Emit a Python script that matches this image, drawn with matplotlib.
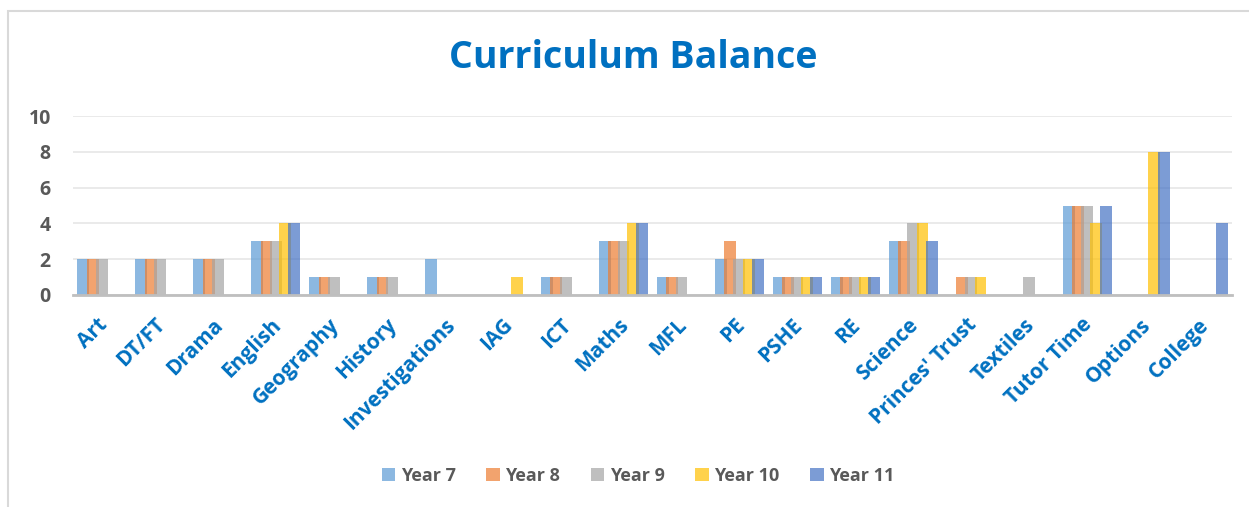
import matplotlib.pyplot as plt
import numpy as np
from matplotlib.patches import Rectangle

subjects = ['Art', 'DT/FT', 'Drama', 'English', 'Geography', 'History', 'Investigations',
            'IAG', 'ICT', 'Maths', 'MFL', 'PE', 'PSHE', 'RE', 'Science', "Princes' Trust",
            'Textiles', 'Tutor Time', 'Options', 'College']

year7 = [2, 2, 2, 3, 1, 1, 2, 0, 1, 3, 1, 2, 1, 1, 3, 0, 0, 5, 0, 0]
year8 = [2, 2, 2, 3, 1, 1, 0, 0, 1, 3, 1, 3, 1, 1, 3, 1, 0, 5, 0, 0]
year9 = [2, 2, 2, 3, 1, 1, 0, 0, 1, 3, 1, 2, 1, 1, 4, 1, 1, 5, 0, 0]
year10 = [0, 0, 0, 4, 0, 0, 0, 1, 0, 4, 0, 2, 1, 1, 4, 1, 0, 4, 8, 0]
year11 = [0, 0, 0, 4, 0, 0, 0, 0, 0, 4, 0, 2, 1, 1, 3, 0, 0, 5, 8, 4]

series = [year7, year8, year9, year10, year11]
labels = ['Year 7', 'Year 8', 'Year 9', 'Year 10', 'Year 11']
colors = ['#5B9BD5', '#ED7D31', '#A5A5A5', '#FFC000', '#4472C4']

plt.rcParams['font.family'] = ['Open Sans', 'DejaVu Sans']

fig = plt.figure(figsize=(12.49, 5.07), dpi=100)
ax = fig.add_axes([73 / 1249, 1 - 295 / 507, 1159 / 1249, 179 / 507])

x = np.arange(len(subjects))
step = 0.16
width = 0.205
for i, (vals, lab, col) in enumerate(zip(series, labels, colors)):
    ax.bar(x + (i - 2) * step, vals, width=width, color=col, alpha=0.7, label=lab, zorder=3)

ax.set_xlim(-0.5, len(subjects) - 0.5)
ax.set_ylim(0, 10)
ax.set_yticks([0, 2, 4, 6, 8, 10])
ax.yaxis.grid(True, color='#E6E6E6', linewidth=1.2, zorder=0)
for s in ['top', 'right', 'left']:
    ax.spines[s].set_visible(False)
ax.spines['bottom'].set_color('#BFBFBF')
ax.spines['bottom'].set_linewidth(2)
ax.spines['bottom'].set_zorder(4)
ax.tick_params(axis='both', length=0)
ax.tick_params(axis='y', labelsize=14, labelcolor='#595959', pad=16)
for t in ax.get_yticklabels():
    t.set_fontweight('bold')

ax.set_xticks(x - 0.09)
ax.set_xticklabels(subjects, rotation=45, ha='right', rotation_mode='anchor',
                   fontsize=15, fontweight='bold', color='#0070C0')
ax.tick_params(axis='x', pad=14)

fig.text(0.507, 0.885, 'Curriculum Balance', ha='center', va='center',
         fontsize=27, fontweight='bold', color='#0070C0')

leg = fig.legend(loc='center', bbox_to_anchor=(0.511, 0.062), ncol=5, frameon=False,
                 prop={'size': 13, 'weight': 'bold'}, handlelength=0.75, handleheight=0.75,
                 handletextpad=0.3, columnspacing=1.7)
for t in leg.get_texts():
    t.set_color('#595959')

# chart border (cropped at right and bottom)
fig.patches.append(Rectangle((8 / 1249, -0.2), 1.2, 1.2 - 11 / 507,
                             transform=fig.transFigure, fill=False,
                             edgecolor='#D9D9D9', linewidth=1.5))

fig.savefig('out.png', dpi=100)
